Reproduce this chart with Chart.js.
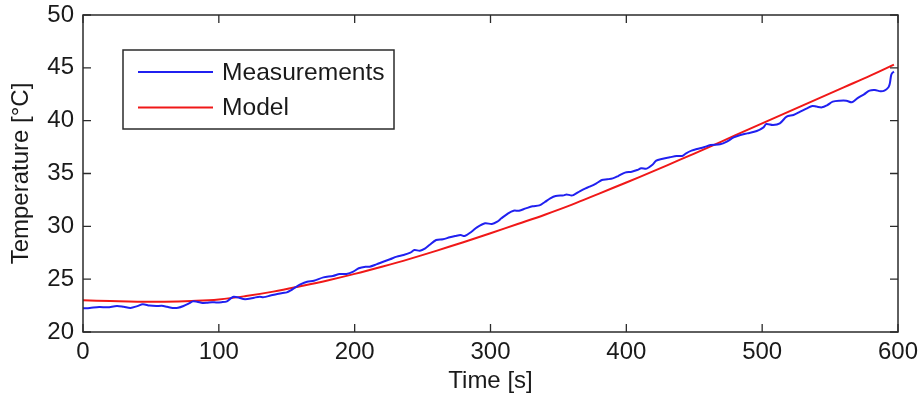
<!DOCTYPE html>
<html><head><meta charset="utf-8">
<script src="https://cdn.jsdelivr.net/npm/chart.js@4/dist/chart.umd.min.js"></script>
<style>html,body{margin:0;padding:0;background:#fff}#wrap{width:920px;height:396px}</style>
</head><body><div id="wrap"><canvas id="c" width="920" height="396"></canvas></div>
<script>
const seriesNames = ['Measurements', 'Model'];
const measTime = [0,5,12,18,25,30,35,40,44,49,54,58,62,66,70,74,78,81,84,88,91,95,98,102,106,109,111,115,118,121,126,130,133,138,143,147,150,153,156,160,165,170,177,184,189,194,199,203,208,211,216,221,226,231,236,241,244,248,252,255,260,265,270,274,278,281,286,290,296,301,305,308,313,317,321,326,331,336,340,344,348,354,356,359,361,366,370,373,378,382,386,390,394,399,404,408,411,415,419,422,426,432,437,441,444,448,452,457,462,469,474,479,484,489,496,501,503,508,513,518,523,528,533,537,540,544,548,552,557,562,566,570,575,579,583,587,590,593,594,595,596,597];
const measTemp = [22.24,22.28,22.36,22.34,22.46,22.38,22.28,22.45,22.62,22.5,22.46,22.48,22.38,22.28,22.3,22.46,22.7,22.9,22.86,22.75,22.76,22.82,22.8,22.82,22.9,23.2,23.34,23.25,23.12,23.12,23.25,23.34,23.3,23.45,23.6,23.7,23.75,23.95,24.2,24.5,24.76,24.85,25.17,25.3,25.49,25.49,25.71,26.03,26.18,26.18,26.4,26.65,26.88,27.13,27.29,27.51,27.76,27.69,27.92,28.23,28.71,28.77,28.96,29.08,29.18,29.08,29.49,29.9,30.29,30.22,30.44,30.76,31.23,31.48,31.48,31.7,31.9,31.98,32.3,32.65,32.87,32.93,33.02,32.93,32.96,33.34,33.6,33.75,34.07,34.38,34.45,34.54,34.76,35.08,35.17,35.33,35.49,35.46,35.8,36.21,36.37,36.53,36.66,36.66,36.91,37.16,37.32,37.48,37.7,37.76,38.01,38.42,38.64,38.8,39.02,39.37,39.68,39.59,39.75,40.38,40.54,40.85,41.17,41.39,41.33,41.26,41.48,41.8,41.89,41.89,41.74,42.11,42.49,42.84,42.9,42.78,42.84,43.16,43.53,44.32,44.54,44.64];
const modelTime = [0,20,40,60,80,100,120,140,160,180,200,220,240,260,280,300,320,340,360,380,400,420,440,460,480,500,520,540,560,580,597];
const modelTemp = [23.0,22.93,22.87,22.86,22.93,23.08,23.4,23.82,24.33,24.88,25.5,26.18,26.9,27.68,28.5,29.35,30.22,31.1,32.05,33.1,34.15,35.22,36.33,37.45,38.6,39.75,40.88,42.02,43.15,44.28,45.3];
const xTickValues = [0,100,200,300,400,500,600];
const yTickValues = [20,25,30,35,40,45,50];

const FONT = 'Liberation Sans, Arial, sans-serif';
const TXT = '#1a1a1a';

const framePlugin = {
  id: 'frame',
  afterDraw(chart) {
    const {ctx, chartArea: a, scales} = chart;
    ctx.save();
    ctx.strokeStyle = '#2b2b2b';
    ctx.lineWidth = 1.5;
    ctx.strokeRect(a.left, a.top, a.right - a.left, a.bottom - a.top);
    const L = 8;
    ctx.lineWidth = 1.3;
    ctx.beginPath();
    xTickValues.forEach(v => {
      const px = scales.x.getPixelForValue(v);
      ctx.moveTo(px, a.bottom); ctx.lineTo(px, a.bottom - L);
      ctx.moveTo(px, a.top); ctx.lineTo(px, a.top + L);
    });
    yTickValues.forEach(v => {
      const py = scales.y.getPixelForValue(v);
      ctx.moveTo(a.left, py); ctx.lineTo(a.left + L, py);
      ctx.moveTo(a.right, py); ctx.lineTo(a.right - L, py);
    });
    ctx.stroke();
    // legend box
    const bx = 123, by = 50, bw = 271, bh = 79;
    ctx.fillStyle = '#fff';
    ctx.fillRect(bx, by, bw, bh);
    ctx.strokeStyle = '#2b2b2b';
    ctx.lineWidth = 1.5;
    ctx.strokeRect(bx, by, bw, bh);
    chart.data.datasets.forEach((ds, i) => {
      const ly = 72 + i * 35.5;
      ctx.strokeStyle = ds.borderColor;
      ctx.lineWidth = 2;
      ctx.beginPath(); ctx.moveTo(138, ly); ctx.lineTo(213, ly); ctx.stroke();
      ctx.fillStyle = TXT;
      ctx.font = '24.6px ' + FONT;
      ctx.textBaseline = 'middle';
      ctx.textAlign = 'left';
      ctx.fillText(ds.label, 222, ly + 1);
    });
    ctx.restore();
  }
};

new Chart(document.getElementById('c'), {
  type: 'line',
  data: {
    datasets: [
      { label: seriesNames[0], data: measTime.map((t, i) => ({x: t, y: measTemp[i]})),
        borderColor: '#2020f0', borderWidth: 2, pointRadius: 0, tension: 0.3, fill: false },
      { label: seriesNames[1], data: modelTime.map((t, i) => ({x: t, y: modelTemp[i]})),
        borderColor: '#f01818', borderWidth: 2, pointRadius: 0, tension: 0.4, fill: false }
    ]
  },
  options: {
    responsive: false,
    devicePixelRatio: 1,
    animation: false,
    layout: { padding: { top: 15, right: 22, left: 0, bottom: 0 } },
    plugins: { legend: { display: false }, tooltip: { enabled: false } },
    scales: {
      x: {
        type: 'linear', min: 0, max: 600,
        afterBuildTicks: s => { s.ticks = xTickValues.map(v => ({value: v})); },
        afterFit: s => { s.height = 64; s.paddingLeft = 0; s.paddingRight = 0; },
        ticks: { font: { family: FONT, size: 24 }, color: TXT, padding: 6, maxRotation: 0 },
        grid: { drawOnChartArea: false, drawTicks: false },
        border: { display: false },
        title: { display: true, text: 'Time [s]', font: { family: FONT, size: 24 }, color: TXT, padding: { top: 0, bottom: 0 } }
      },
      y: {
        type: 'linear', min: 20, max: 50,
        afterBuildTicks: s => { s.ticks = yTickValues.map(v => ({value: v})); },
        afterFit: s => { s.width = 83; s.paddingTop = 0; s.paddingBottom = 0; },
        ticks: { font: { family: FONT, size: 24 }, color: TXT, padding: 9 },
        grid: { drawOnChartArea: false, drawTicks: false },
        border: { display: false },
        title: { display: true, text: 'Temperature [°C]', font: { family: FONT, size: 24 }, color: TXT, padding: { top: 7, bottom: 0 } }
      }
    }
  },
  plugins: [framePlugin]
});
</script>
</body></html>
